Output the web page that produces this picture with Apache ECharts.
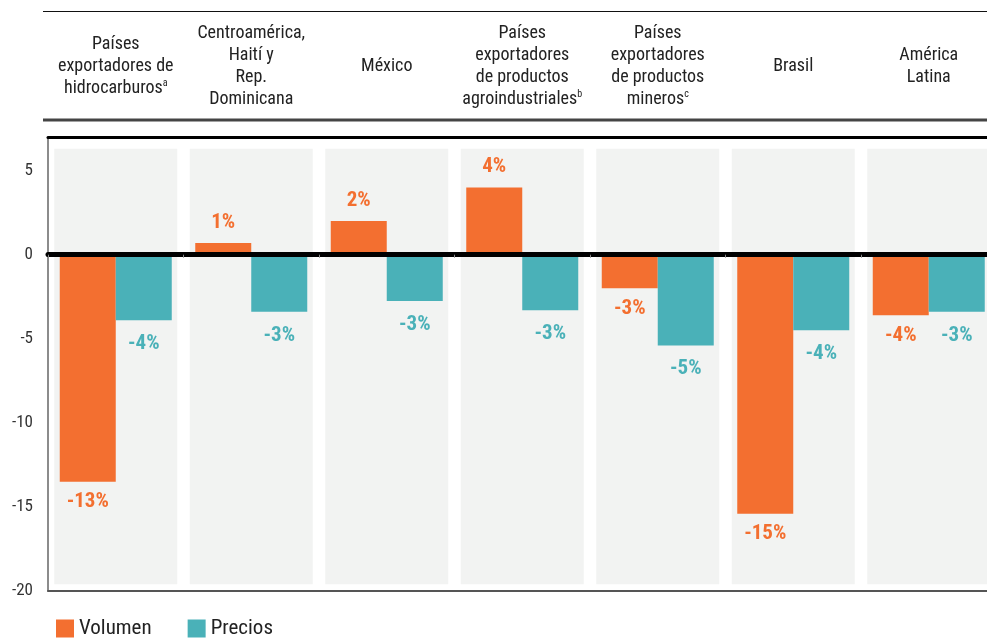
<!DOCTYPE html>
<html>
<head>
<meta charset="utf-8">
<script src="https://cdn.jsdelivr.net/npm/echarts@6/dist/echarts.min.js"></script>
<style>
  html, body { margin: 0; padding: 0; background: #fff; }
  #chart { width: 987px; height: 638px; }
</style>
</head>
<body>
<div id="chart"></div>
<script>
// categories and footnote marks shown in the header
const categories = [
  'Países\nexportadores de\nhidrocarburos',
  'Centroamérica,\nHaití y\nRep.\nDominicana',
  'México',
  'Países\nexportadores\nde productos\nagroindustriales',
  'Países\nexportadores\nde productos\nmineros',
  'Brasil',
  'América\nLatina'
]
const notes = ['a', '', '', 'b', 'c', '', '']

// series values (%)
const volumen = [-13.5, 0.7, 2.0, 4.0, -2.0, -15.4, -3.6]
const precios = [-3.9, -3.4, -2.75, -3.3, -5.4, -4.5, -3.4]
// printed labels
const volumenLabels = ['-13%', '1%', '2%', '4%', '-3%', '-15%', '-4%']
const preciosLabels = ['-4%', '-3%', '-3%', '-3%', '-5%', '-4%', '-3%']

// y axis
const yMin = -20
const yMax = 7
const yStep = 5
// grey background panels span
const panelTop = categories.map(() => 6.3)
const panelBottom = categories.map(() => -19.6)

const FONT = "'Liberation Sans Narrow', 'Roboto Condensed', 'DejaVu Sans Condensed', sans-serif"
const ORANGE = '#F36F30'
const TEAL = '#4AB1B8'

function toItems (values, labels) {
  return values.map((v, i) => ({
    value: v,
    label: { position: v < 0 ? 'bottom' : 'top', formatter: labels[i] }
  }))
}

const chart = echarts.init(document.getElementById('chart'))
chart.setOption({
  animation: false,
  textStyle: { fontFamily: FONT },
  // last column runs past the right edge of the picture
  grid: { left: 48, width: 948.5, top: 137, bottom: 47, containLabel: false, outerBoundsMode: 'none' },
  legend: {
    left: 51,
    top: 613,
    itemWidth: 18,
    itemHeight: 18,
    itemGap: 36,
    icon: 'rect',
    data: ['Volumen', 'Precios'],
    textStyle: { fontFamily: FONT, fontSize: 21, color: '#222' }
  },
  graphic: [
    { type: 'line', shape: { x1: 43, y1: 11.5, x2: 987, y2: 11.5 }, style: { stroke: '#111', lineWidth: 1 } },
    { type: 'line', shape: { x1: 43, y1: 120, x2: 987, y2: 120 }, style: { stroke: '#444', lineWidth: 3 } }
  ],
  xAxis: [
    {
      // zero line with small ticks
      type: 'category',
      data: categories,
      z: 5,
      axisLine: { onZero: true, lineStyle: { color: '#000', width: 5 } },
      axisTick: { show: true, length: 3, lineStyle: { color: '#888', width: 1 } },
      axisLabel: { show: false },
      splitLine: { show: false }
    },
    {
      // bottom frame, grey panels
      type: 'category',
      data: categories,
      position: 'bottom',
      axisLine: { onZero: false, lineStyle: { color: '#555', width: 2 } },
      axisTick: { show: false },
      axisLabel: { show: false }
    },
    {
      // header labels
      type: 'category',
      data: categories,
      position: 'top',
      axisLine: { lineStyle: { color: '#000', width: 3 } },
      axisTick: { show: false },
      axisLabel: {
        interval: 0,
        margin: 71,
        verticalAlign: 'middle',
        align: 'center',
        fontFamily: FONT,
        fontSize: 18,
        lineHeight: 22,
        color: '#222',
        formatter: (value) => {
          const i = categories.indexOf(value)
          return notes[i] ? value + '{sup|' + notes[i] + '}' : value
        },
        rich: {
          sup: { fontSize: 10, fontFamily: FONT, color: '#222', padding: [0, 0, 9, 0] }
        }
      }
    }
  ],
  yAxis: {
    type: 'value',
    min: yMin,
    max: yMax,
    interval: yStep,
    axisLine: { show: true, lineStyle: { color: '#666', width: 1.5 } },
    axisTick: { show: false },
    splitLine: { show: false },
    axisLabel: {
      showMaxLabel: false,
      margin: 15,
      fontFamily: FONT,
      fontSize: 17,
      color: '#333'
    }
  },
  series: [
    {
      name: 'panelTop',
      type: 'bar',
      xAxisIndex: 1,
      stack: 'panel',
      barWidth: 123,
      silent: true,
      itemStyle: { color: '#F2F3F2' },
      data: panelTop
    },
    {
      name: 'panelBottom',
      type: 'bar',
      xAxisIndex: 1,
      stack: 'panel',
      barWidth: 123,
      silent: true,
      itemStyle: { color: '#F2F3F2' },
      data: panelBottom
    },
    {
      name: 'Volumen',
      type: 'bar',
      xAxisIndex: 0,
      barWidth: 56,
      barGap: '0%',
      itemStyle: { color: ORANGE },
      label: {
        show: true,
        distance: 10,
        color: ORANGE,
        fontFamily: FONT,
        fontWeight: 'bold',
        fontSize: 21
      },
      data: toItems(volumen, volumenLabels)
    },
    {
      name: 'Precios',
      type: 'bar',
      xAxisIndex: 0,
      barWidth: 56,
      barGap: '0%',
      itemStyle: { color: TEAL },
      label: {
        show: true,
        distance: 13,
        color: TEAL,
        fontFamily: FONT,
        fontWeight: 'bold',
        fontSize: 21
      },
      data: toItems(precios, preciosLabels)
    }
  ]
})
</script>
</body>
</html>
